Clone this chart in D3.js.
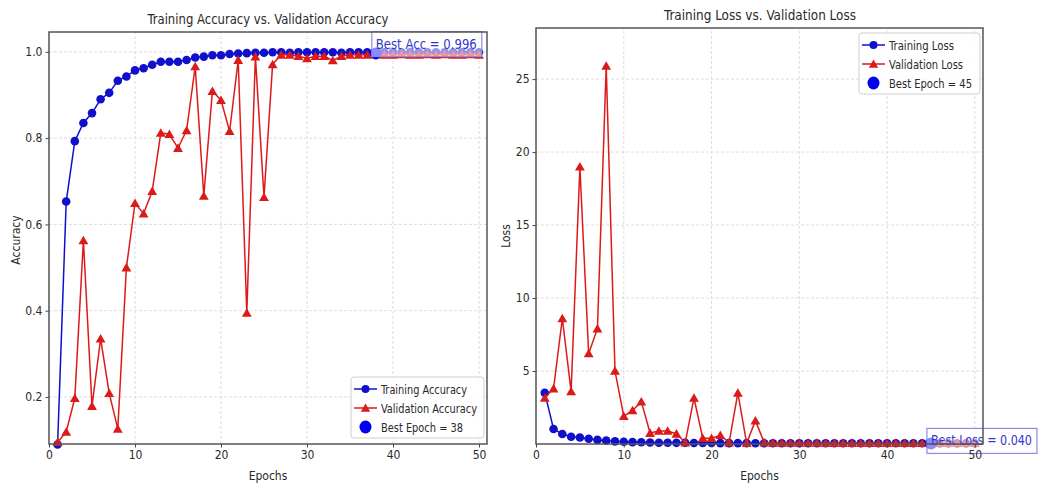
<!DOCTYPE html>
<html>
<head>
<meta charset="utf-8">
<script src="https://cdn.jsdelivr.net/npm/d3@7"></script>
<style>
  body { margin: 0; background: #fff; }
  svg text { font-family: "DejaVu Sans Condensed", "Liberation Sans Narrow", "DejaVu Sans", sans-serif; fill: #2a2a2a; }
</style>
</head>
<body>
<svg id="chart" width="1043" height="485"></svg>
<script>
// epochs 1..50
const epochs = d3.range(1, 51);

const trainAcc = [0.09, 0.653, 0.793, 0.835, 0.858, 0.89, 0.905, 0.933, 0.943, 0.957,
  0.962, 0.970, 0.977, 0.977, 0.977, 0.981, 0.987, 0.989, 0.992, 0.992,
  0.995, 0.996, 0.997, 0.998, 0.998, 0.999, 0.999, 0.998, 0.999, 0.999,
  0.999, 0.999, 0.999, 0.998, 0.999, 0.999, 0.999, 0.999, 0.999, 0.999,
  0.999, 0.999, 0.999, 0.999, 0.999, 0.999, 0.999, 0.999, 0.999, 0.999];

const valAcc = [0.095, 0.119, 0.197, 0.563, 0.179, 0.335, 0.209, 0.126, 0.5, 0.649,
  0.625, 0.677, 0.812, 0.809, 0.777, 0.818, 0.966, 0.666, 0.909, 0.888,
  0.816, 0.981, 0.395, 0.989, 0.663, 0.971, 0.993, 0.993, 0.99, 0.985,
  0.99, 0.99, 0.98, 0.99, 0.993, 0.993, 0.993, 0.996, 0.993, 0.993,
  0.994, 0.993, 0.993, 0.994, 0.993, 0.994, 0.993, 0.993, 0.994, 0.993];

const trainLoss = [3.5, 1.03, 0.68, 0.5, 0.45, 0.36, 0.28, 0.23, 0.18, 0.15,
  0.13, 0.12, 0.1, 0.09, 0.09, 0.08, 0.08, 0.07, 0.07, 0.07,
  0.06, 0.06, 0.06, 0.06, 0.05, 0.05, 0.05, 0.05, 0.05, 0.05,
  0.05, 0.05, 0.05, 0.05, 0.05, 0.05, 0.05, 0.05, 0.05, 0.05,
  0.05, 0.05, 0.05, 0.05, 0.04, 0.04, 0.04, 0.04, 0.04, 0.04];

const valLoss = [3.15, 3.8, 8.6, 3.6, 19.0, 6.2, 7.9, 25.9, 5.0, 1.9,
  2.3, 2.9, 0.75, 0.89, 0.89, 0.7, 0.1, 3.15, 0.4, 0.4,
  0.6, 0.1, 3.5, 0.05, 1.6, 0.1, 0.08, 0.08, 0.07, 0.07,
  0.07, 0.07, 0.06, 0.06, 0.06, 0.06, 0.06, 0.06, 0.05, 0.05,
  0.05, 0.05, 0.05, 0.05, 0.04, 0.05, 0.05, 0.05, 0.05, 0.05];

const xTicks = [0, 10, 20, 30, 40, 50];
const accTicks = [0.2, 0.4, 0.6, 0.8, 1.0];
const lossTicks = [5, 10, 15, 20, 25];

const BLUE = "#1010cc", RED = "#dd1a1a";
const svg = d3.select("#chart");

function panel(cfg) {
  const g = svg.append("g");
  const x = d3.scaleLinear().domain([0, 50.93]).range(cfg.xr);
  const y = d3.scaleLinear().domain(cfg.yd).range(cfg.yr);

  // grid
  g.append("g").selectAll("line").data(xTicks).join("line")
    .attr("x1", d => x(d)).attr("x2", d => x(d))
    .attr("y1", cfg.yr[0]).attr("y2", cfg.yr[1])
    .attr("stroke", "#d4d4d4").attr("stroke-dasharray", "3,2").attr("stroke-width", 0.8);
  g.append("g").selectAll("line").data(cfg.yTicks).join("line")
    .attr("x1", cfg.xr[0]).attr("x2", cfg.xr[1])
    .attr("y1", d => y(d)).attr("y2", d => y(d))
    .attr("stroke", "#d4d4d4").attr("stroke-dasharray", "3,2").attr("stroke-width", 0.8);

  // series
  const line = d3.line().x((d, i) => x(epochs[i])).y(d => y(d));
  g.append("path").datum(cfg.train).attr("d", line)
    .attr("fill", "none").attr("stroke", BLUE).attr("stroke-width", 1.5);
  g.append("g").selectAll("circle").data(cfg.train).join("circle")
    .attr("cx", (d, i) => x(epochs[i])).attr("cy", d => y(d)).attr("r", 4.3)
    .attr("fill", BLUE);
  g.append("path").datum(cfg.val).attr("d", line)
    .attr("fill", "none").attr("stroke", RED).attr("stroke-width", 1.5);
  g.append("g").selectAll("path").data(cfg.val).join("path")
    .attr("transform", (d, i) => `translate(${x(epochs[i])},${y(d) + 1})`)
    .attr("d", d3.symbol(d3.symbolTriangle, 42)).attr("fill", RED);

  // best epoch marker
  g.append("circle").attr("cx", x(cfg.bestEpoch)).attr("cy", y(cfg.bestVal))
    .attr("r", 6).attr("fill", "#0000ee");

  // annotation box
  const bx = x(cfg.bestEpoch) - 4, by = y(cfg.bestVal) + cfg.boxDy;
  g.append("rect").attr("x", bx).attr("y", by).attr("width", 110).attr("height", 25)
    .attr("fill", "#fff").attr("fill-opacity", 0.55)
    .attr("stroke", "#8c8ce6").attr("stroke-width", 1.2);
  g.append("text").attr("x", bx + 4).attr("y", by + 17)
    .attr("font-size", 14).style("fill", "#3535cc")
    .attr("textLength", 101).attr("lengthAdjust", "spacingAndGlyphs")
    .text(cfg.boxText);

  // axes
  const ax = g.append("g").attr("transform", `translate(0,${cfg.yr[0]})`)
    .call(d3.axisBottom(x).tickValues(xTicks).tickFormat(d3.format("d")).tickSize(3.5).tickPadding(3));
  const ay = g.append("g").attr("transform", `translate(${cfg.xr[0]},0)`)
    .call(d3.axisLeft(y).tickValues(cfg.yTicks).tickFormat(cfg.fmt).tickSize(3.5).tickPadding(3));
  [ax, ay].forEach(a => {
    a.select(".domain").remove();
    a.selectAll("line").attr("stroke", "#444");
    a.selectAll("text").attr("font-size", 12).style("fill", "#2a2a2a");
  });

  // frame
  g.append("rect").attr("x", cfg.xr[0]).attr("y", cfg.yr[1])
    .attr("width", cfg.xr[1] - cfg.xr[0]).attr("height", cfg.yr[0] - cfg.yr[1])
    .attr("fill", "none").attr("stroke", "#555").attr("stroke-width", 1.5);

  // titles
  const cx = (cfg.xr[0] + cfg.xr[1]) / 2;
  g.append("text").attr("x", cfg.titleX).attr("y", cfg.titleY).attr("text-anchor", "middle")
    .attr("font-size", 14).attr("textLength", cfg.titleW).attr("lengthAdjust", "spacingAndGlyphs")
    .text(cfg.title);
  g.append("text").attr("x", cx).attr("y", 480).attr("text-anchor", "middle")
    .attr("font-size", 12).text("Epochs");
  g.append("text").attr("transform", `translate(${cfg.ylabX},${cfg.ylabY}) rotate(-90)`)
    .attr("text-anchor", "middle").attr("font-size", 12).text(cfg.ylab);

  // legend
  const L = cfg.legend;
  const lg = g.append("g").attr("transform", `translate(${L.x},${L.y})`);
  lg.append("rect").attr("width", L.w).attr("height", 61).attr("rx", 3)
    .attr("fill", "#fff").attr("fill-opacity", 0.85).attr("stroke", "#d0d0d0");
  const rows = [
    {label: L.labels[0], color: BLUE, kind: "circle"},
    {label: L.labels[1], color: RED, kind: "tri"},
    {label: L.labels[2], color: "#0000ee", kind: "big"}
  ];
  rows.forEach((r, i) => {
    const ry = 12 + i * 19;
    if (r.kind !== "big") {
      lg.append("line").attr("x1", 3).attr("x2", 26).attr("y1", ry).attr("y2", ry)
        .attr("stroke", r.color).attr("stroke-width", 1.5);
    }
    if (r.kind === "circle") lg.append("circle").attr("cx", 14.5).attr("cy", ry).attr("r", 4).attr("fill", r.color);
    if (r.kind === "tri") lg.append("path").attr("transform", `translate(14.5,${ry + 1})`)
      .attr("d", d3.symbol(d3.symbolTriangle, 38)).attr("fill", r.color);
    if (r.kind === "big") lg.append("ellipse").attr("cx", 14.5).attr("cy", ry).attr("rx", 6).attr("ry", 6.5).attr("fill", r.color);
    lg.append("text").attr("x", 30).attr("y", ry + 4.5).attr("font-size", 12)
      .attr("textLength", L.tw[i]).attr("lengthAdjust", "spacingAndGlyphs").text(r.label);
  });
}

panel({
  xr: [49, 487], yr: [444, 32], yd: [0.091, 1.046], yTicks: accTicks, fmt: d3.format(".1f"),
  train: trainAcc, val: valAcc, bestEpoch: 38, bestVal: 0.996, boxDy: -22, boxText: "Best Acc = 0.996",
  title: "Training Accuracy vs. Validation Accuracy", titleX: 268, titleY: 24, titleW: 241,
  ylab: "Accuracy", ylabX: 20, ylabY: 240,
  legend: {x: 351, y: 377, w: 133, labels: ["Training Accuracy", "Validation Accuracy", "Best Epoch = 38"], tw: [86, 96, 82]}
});

panel({
  xr: [536, 983], yr: [444, 28], yd: [0, 28.5], yTicks: lossTicks, fmt: d3.format("d"),
  train: trainLoss, val: valLoss, bestEpoch: 45, bestVal: 0.04, boxDy: -15, boxText: "Best Loss = 0.040",
  title: "Training Loss vs. Validation Loss", titleX: 760, titleY: 20, titleW: 192,
  ylab: "Loss", ylabX: 510, ylabY: 236,
  legend: {x: 859, y: 33, w: 121, labels: ["Training Loss", "Validation Loss", "Best Epoch = 45"], tw: [65, 74, 83]}
});
</script>
</body>
</html>
